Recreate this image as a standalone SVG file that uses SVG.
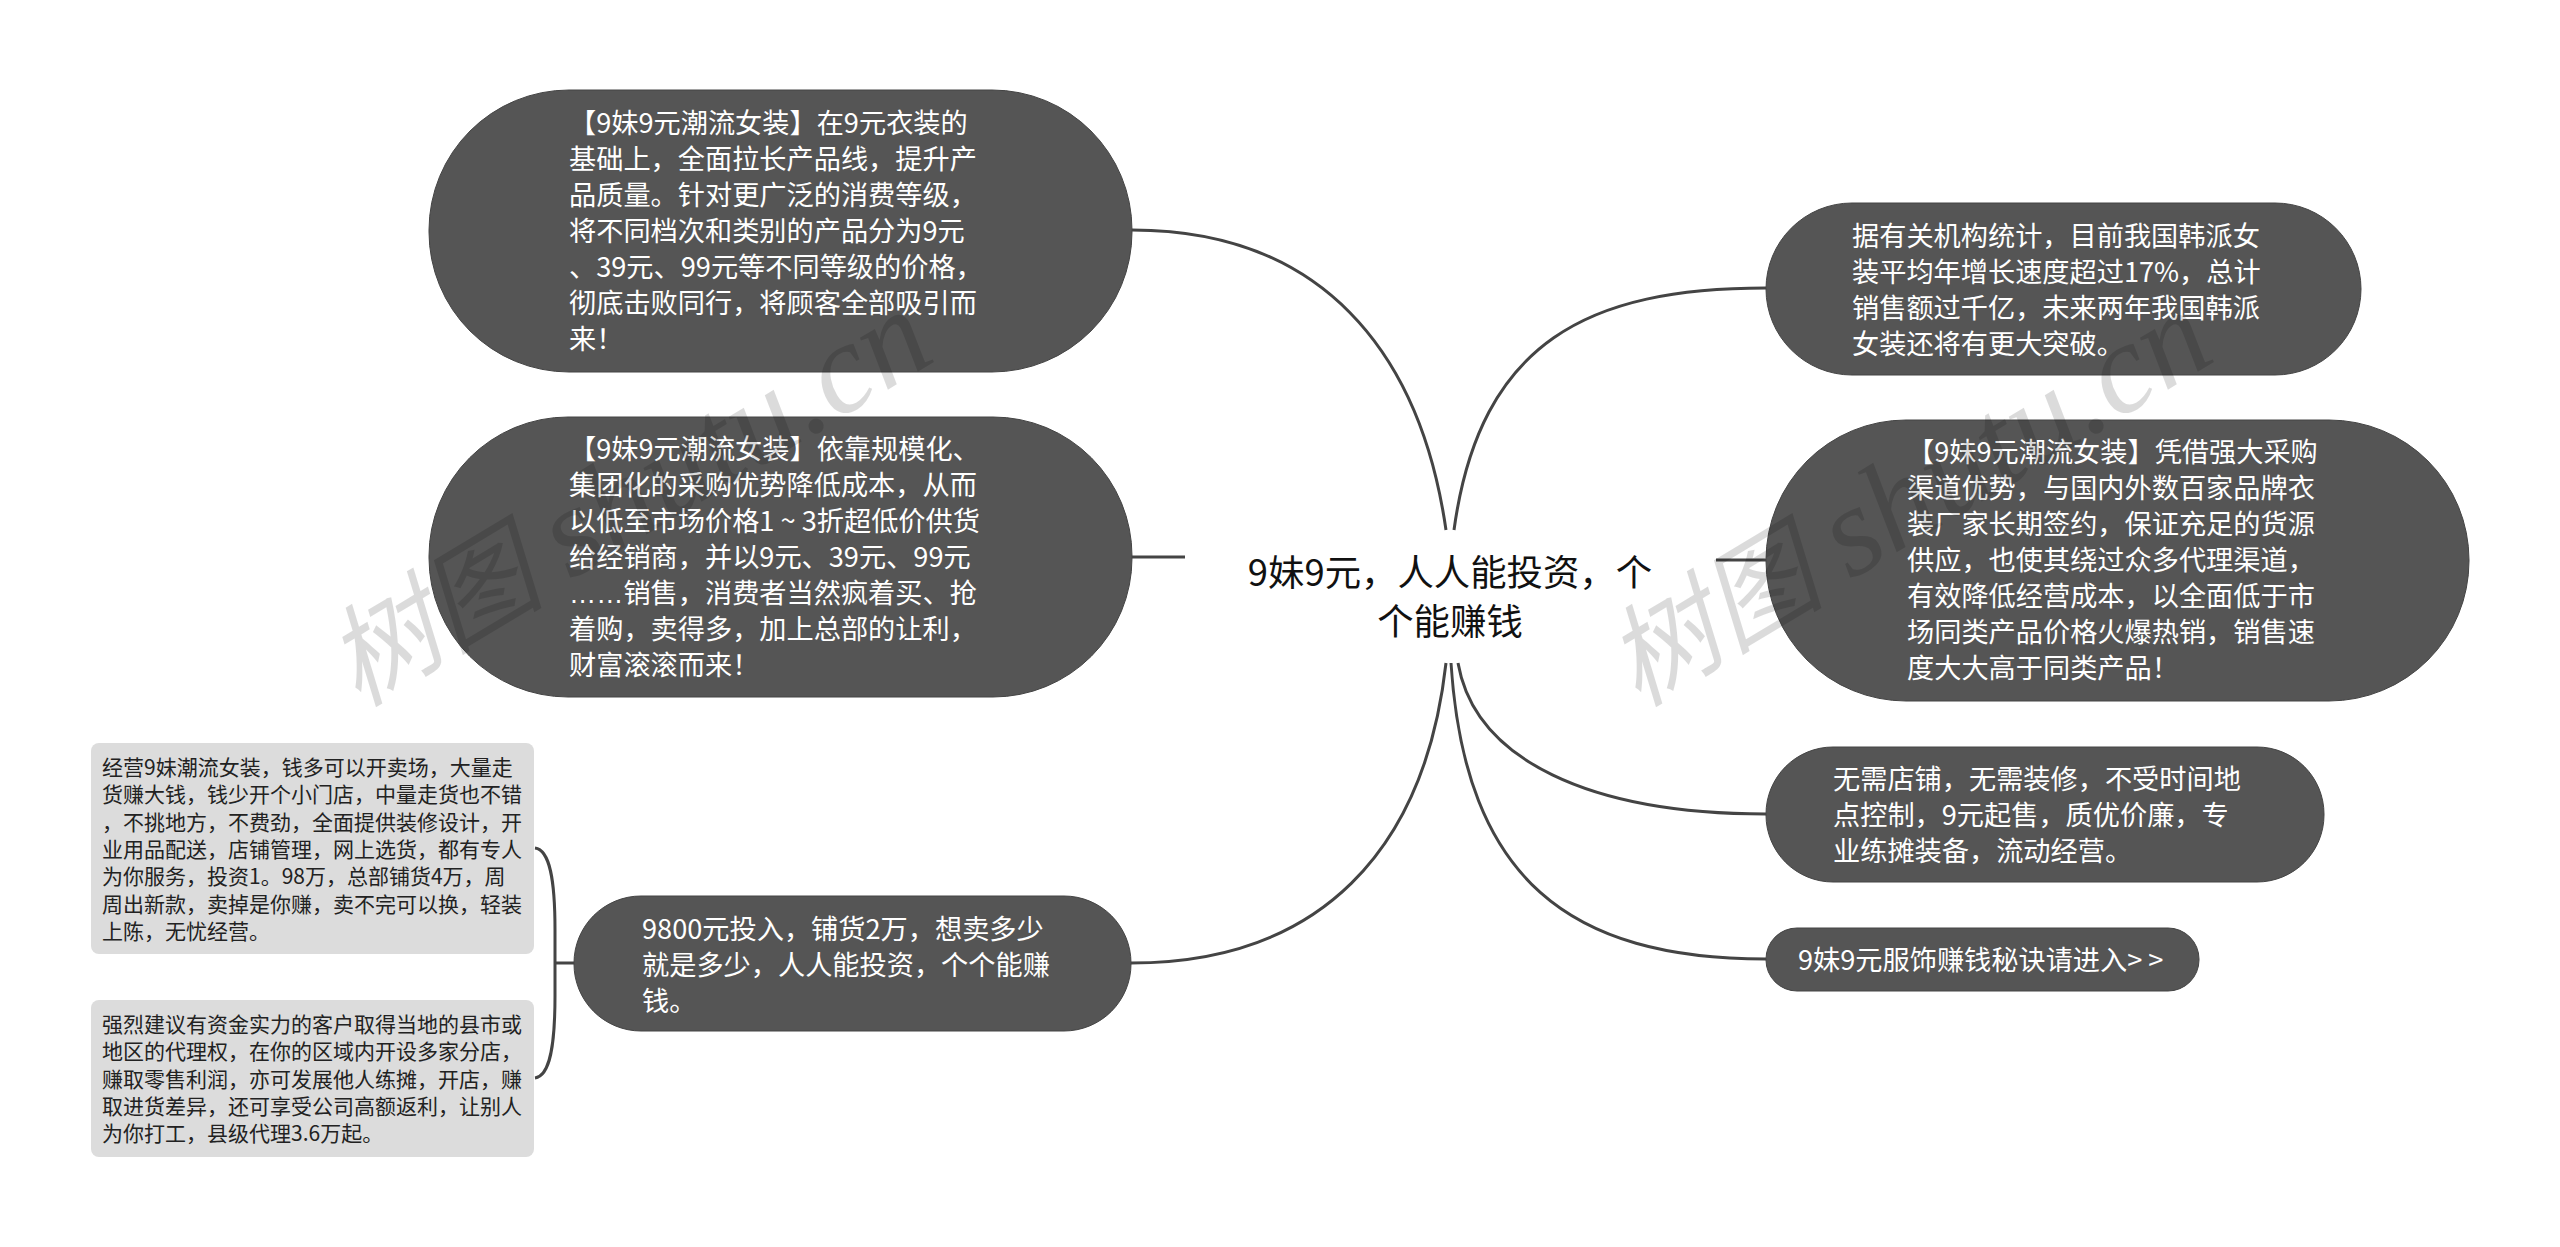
<svg xmlns="http://www.w3.org/2000/svg" width="2560" height="1247" viewBox="0 0 2560 1247">
<style>
text{font-family:"Noto Sans CJK SC","Microsoft YaHei",sans-serif}
.n{fill:#555;stroke:#444;stroke-width:1}
.b{fill:#dcdcdc}
.t{fill:#fff;font-size:27.2px}
.s{fill:#222;font-size:21px}
.c{fill:#111;font-size:36.4px;text-anchor:middle}
.l{fill:none;stroke:#444;stroke-width:3}
.w{fill:#000;fill-opacity:.14;font-style:italic;font-family:"Liberation Serif","Noto Sans CJK SC",serif;font-size:110px}
.wl{font-size:128px}
.e{font-family:"Liberation Sans",sans-serif}
.g{letter-spacing:6px}
</style>
<rect width="2560" height="1247" fill="#fff"/>
<g id="connectors">
<path class="l" d="M1132 230C1320 230 1420 350 1446 530"/>
<path class="l" d="M1132 557H1185"/>
<path class="l" d="M1131 963C1320 963 1425 850 1446 663"/>
<path class="l" d="M1454 530C1480 340 1590 288 1766 288"/>
<path class="l" d="M1716 560H1766"/>
<path class="l" d="M1458 663C1475 760 1590 814 1766 814"/>
<path class="l" d="M1451 663C1465 880 1570 959 1766 959"/>
<path class="l" d="M574 963H555M535 848C550 850 555 880 555 930V996C555 1046 550 1076 535 1078"/>
</g>
<g id="center">
<text class="c" x="1450" y="586">9妹9元，人人能投资，个</text>
<text class="c" x="1450" y="635">个能赚钱</text>
</g>
<g id="node-l1">
<rect class="n" x="429" y="90" width="703" height="282" rx="140" ry="140"/>
<text class="t"><tspan x="569" y="133">【9妹9元潮流女装】在9元衣装的</tspan><tspan x="569" dy="36">基础上，全面拉长产品线，提升产</tspan><tspan x="569" dy="36">品质量。针对更广泛的消费等级，</tspan><tspan x="569" dy="36">将不同档次和类别的产品分为9元</tspan><tspan x="569" dy="36">、39元、99元等不同等级的价格，</tspan><tspan x="569" dy="36">彻底击败同行，将顾客全部吸引而</tspan><tspan x="569" dy="36">来！</tspan></text>
</g>
<g id="node-l2">
<rect class="n" x="429" y="417" width="703" height="280" rx="139" ry="139"/>
<text class="t"><tspan x="569" y="459">【9妹9元潮流女装】依靠规模化、</tspan><tspan x="569" dy="36">集团化的采购优势降低成本，从而</tspan><tspan x="569" dy="36">以低至市场价格1 ~ 3折超低价供货</tspan><tspan x="569" dy="36">给经销商，并以9元、39元、99元</tspan><tspan x="569" dy="36"><tspan class="e">……</tspan>销售，消费者当然疯着买、抢</tspan><tspan x="569" dy="36">着购，卖得多，加上总部的让利，</tspan><tspan x="569" dy="36">财富滚滚而来！</tspan></text>
</g>
<g id="node-l3">
<rect class="n" x="574" y="896" width="557" height="135" rx="67" ry="67"/>
<text class="t"><tspan x="642" y="939">9800元投入，铺货2万，想卖多少</tspan><tspan x="642" dy="36">就是多少，人人能投资，个个能赚</tspan><tspan x="642" dy="36">钱。</tspan></text>
</g>
<g id="leaf-1">
<rect class="b" x="91" y="743" width="443" height="211" rx="8"/>
<text class="s"><tspan x="102" y="775">经营9妹潮流女装，钱多可以开卖场，大量走</tspan><tspan x="102" dy="27.3">货赚大钱，钱少开个小门店，中量走货也不错</tspan><tspan x="102" dy="27.3">，不挑地方，不费劲，全面提供装修设计，开</tspan><tspan x="102" dy="27.3">业用品配送，店铺管理，网上选货，都有专人</tspan><tspan x="102" dy="27.3">为你服务，投资1。98万，总部铺货4万，周</tspan><tspan x="102" dy="27.3">周出新款，卖掉是你赚，卖不完可以换，轻装</tspan><tspan x="102" dy="27.3">上陈，无忧经营。</tspan></text>
</g>
<g id="leaf-2">
<rect class="b" x="91" y="1000" width="443" height="157" rx="8"/>
<text class="s"><tspan x="102" y="1032">强烈建议有资金实力的客户取得当地的县市或</tspan><tspan x="102" dy="27.3">地区的代理权，在你的区域内开设多家分店，</tspan><tspan x="102" dy="27.3">赚取零售利润，亦可发展他人练摊，开店，赚</tspan><tspan x="102" dy="27.3">取进货差异，还可享受公司高额返利，让别人</tspan><tspan x="102" dy="27.3">为你打工，县级代理3.6万起。</tspan></text>
</g>
<g id="node-r1">
<rect class="n" x="1766" y="203" width="595" height="172" rx="86" ry="86"/>
<text class="t"><tspan x="1852" y="246">据有关机构统计，目前我国韩派女</tspan><tspan x="1852" dy="36">装平均年增长速度超过17%，总计</tspan><tspan x="1852" dy="36">销售额过千亿，未来两年我国韩派</tspan><tspan x="1852" dy="36">女装还将有更大突破。</tspan></text>
</g>
<g id="node-r2">
<rect class="n" x="1766" y="420" width="703" height="281" rx="140" ry="140"/>
<text class="t"><tspan x="1907" y="462">【9妹9元潮流女装】凭借强大采购</tspan><tspan x="1907" dy="36">渠道优势，与国内外数百家品牌衣</tspan><tspan x="1907" dy="36">装厂家长期签约，保证充足的货源</tspan><tspan x="1907" dy="36">供应，也使其绕过众多代理渠道，</tspan><tspan x="1907" dy="36">有效降低经营成本，以全面低于市</tspan><tspan x="1907" dy="36">场同类产品价格火爆热销，销售速</tspan><tspan x="1907" dy="36">度大大高于同类产品！</tspan></text>
</g>
<g id="node-r3">
<rect class="n" x="1766" y="747" width="558" height="135" rx="67" ry="67"/>
<text class="t"><tspan x="1833" y="789">无需店铺，无需装修，不受时间地</tspan><tspan x="1833" dy="36">点控制，9元起售，质优价廉，专</tspan><tspan x="1833" dy="36">业练摊装备，流动经营。</tspan></text>
</g>
<g id="node-r4">
<rect class="n" x="1766" y="928" width="433" height="63" rx="31" ry="31"/>
<text class="t" x="1798" y="970">9妹9元服饰赚钱秘诀请进入<tspan class="g">&gt;&gt;</tspan></text>
</g>
<text class="w" transform="translate(358 708) rotate(-31)">树图 <tspan class="wl">shutu.cn</tspan></text>
<text class="w" transform="translate(1638 708) rotate(-31)">树图 <tspan class="wl">shutu.cn</tspan></text>
</svg>
